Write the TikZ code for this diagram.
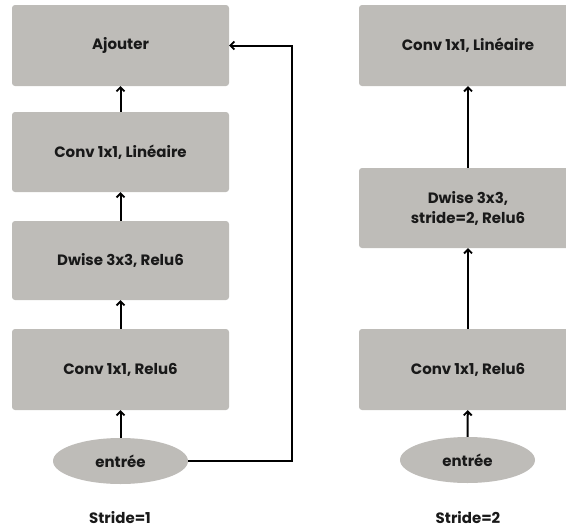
\documentclass[tikz,border=0pt]{standalone}
\usepackage{fontspec}
\setmainfont{Poppins}
\usetikzlibrary{arrows.meta,shapes.geometric}
\definecolor{boxgray}{HTML}{BEBCB8}
\tikzset{
  blk/.style={fill=boxgray, rounded corners=3pt, inner sep=0pt, font=\bfseries\fontsize{15}{20}\selectfont, align=center, text=black!90},
  ell/.style={ellipse, fill=boxgray, inner sep=0pt, font=\bfseries\fontsize{15}{20}\selectfont, text=black!90},
  conn/.style={line width=2pt, -{Straight Barb[length=4pt,width=8pt,line width=1.8pt]}},
  captxt/.style={font=\bfseries\fontsize{15}{20}\selectfont, text=black!90}
}
\begin{document}
\begin{tikzpicture}[x=1pt,y=-1pt]
\useasboundingbox (0,0) rectangle (566,528);
\begin{scope}
\clip (0,0) rectangle (566,528);
% left column
\node[blk, minimum width=217pt, minimum height=81pt] (add) at (120.5,45.5) {Ajouter};
\node[blk, minimum width=217pt, minimum height=80pt] (lin1) at (120.5,152) {Conv 1x1, Linéaire};
\node[blk, minimum width=217pt, minimum height=79pt] (dw1) at (120.5,260.5) {Dwise 3x3, Relu6};
\node[blk, minimum width=217pt, minimum height=81pt] (c1) at (120.5,369.5) {Conv 1x1, Relu6};
\node[ell, minimum width=135pt, minimum height=46pt] (in1) at (120.5,461) {entrée};
\node[captxt] (s1) at (120,518) {Stride=1};
% right column
\node[blk, minimum width=218pt, minimum height=81pt] (lin2) at (468,45.5) {Conv 1x1, Linéaire};
\node[blk, minimum width=218pt, minimum height=80pt] (dw2) at (468,208) {Dwise 3x3,\\stride=2, Relu6};
\node[blk, minimum width=218pt, minimum height=81pt] (c2) at (468,369.5) {Conv 1x1, Relu6};
\node[ell, minimum width=135pt, minimum height=46pt] (in2) at (467.5,460) {entrée};
\node[captxt] (s2) at (468,518) {Stride=2};
\coordinate (bend) at (292,461);
\end{scope}
% connectors
\draw[conn] (in1) -- (c1);
\draw[conn] (c1) -- (dw1);
\draw[conn] (dw1) -- (lin1);
\draw[conn] (lin1) -- (add);
\draw[conn] (in1.east) -- (bend) |- (add.east);
\draw[conn] (in2) -- (c2);
\draw[conn] (c2) -- (dw2);
\draw[conn] (dw2) -- (lin2);
\end{tikzpicture}
\end{document}
